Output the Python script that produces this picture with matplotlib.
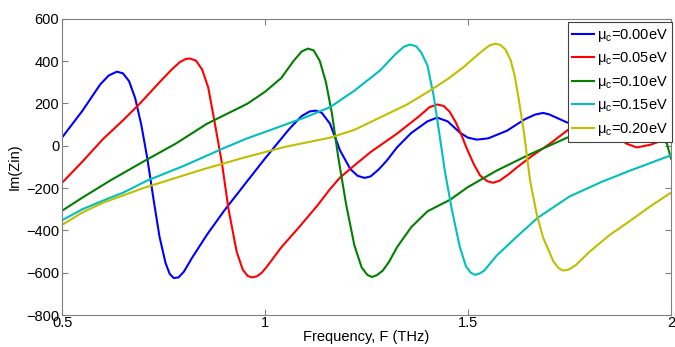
import matplotlib
matplotlib.use("Agg")
import matplotlib.pyplot as plt

plt.rcParams["font.family"] = ["Liberation Sans", "DejaVu Sans"]
plt.rcParams["mathtext.fontset"] = "custom"
plt.rcParams["mathtext.rm"] = "Liberation Sans"

# values (frequency in THz, Im(Zin))
f_000 = [0.50, 0.55, 0.594, 0.615, 0.635, 0.65, 0.665, 0.68, 0.695, 0.71, 0.725, 0.74, 0.755,
         0.765, 0.775, 0.787, 0.80, 0.82, 0.857, 0.90, 0.955, 1.00, 1.06, 1.09, 1.11, 1.125,
         1.14, 1.16, 1.185, 1.21, 1.228, 1.245, 1.26, 1.28, 1.30, 1.325, 1.36, 1.40, 1.424,
         1.45, 1.48, 1.50, 1.522, 1.55, 1.596, 1.64, 1.665, 1.685, 1.70, 1.744, 1.78, 1.82,
         1.86, 1.90, 1.95, 2.00]
z_000 = [39, 165, 290, 332, 350, 342, 305, 225, 100, -60, -250, -430, -555,
         -605, -625, -622, -595, -530, -420, -305, -170, -60, 80, 140, 162, 166,
         155, 104, -23, -110, -142, -152, -145, -112, -70, -8, 60, 115, 133,
         115, 62, 38, 29, 35, 71, 125, 147, 155, 148, 110, 95, 92,
         105, 130, 160, 188]

f_005 = [0.50, 0.55, 0.60, 0.65, 0.692, 0.74, 0.77, 0.79, 0.805, 0.815, 0.83, 0.845, 0.86,
         0.875, 0.894, 0.91, 0.93, 0.945, 0.957, 0.968, 0.98, 0.992, 1.005, 1.04, 1.086,
         1.13, 1.16, 1.185, 1.21, 1.26, 1.325, 1.38, 1.405, 1.424, 1.44, 1.455, 1.47, 1.485,
         1.497, 1.515, 1.53, 1.548, 1.562, 1.578, 1.60, 1.62, 1.66, 1.702, 1.75, 1.80, 1.84,
         1.87, 1.89, 1.916, 1.95, 2.00]
z_005 = [-175, -75, 30, 120, 200, 300, 360, 395, 410, 412, 402, 360, 275,
         120, -85, -300, -500, -585, -615, -622, -617, -600, -570, -480, -380,
         -280, -205, -150, -109, -30, 57, 140, 182, 195, 188, 160, 110, 45,
         -13, -90, -141, -168, -175, -165, -135, -103, -45, 10, 80, 115, 90,
         40, 10, -8, 5, 40]

f_010 = [0.50, 0.55, 0.618, 0.70, 0.78, 0.857, 0.956, 1.00, 1.04, 1.07, 1.09, 1.106, 1.12,
         1.135, 1.15, 1.165, 1.18, 1.20, 1.22, 1.238, 1.252, 1.263, 1.275, 1.29, 1.305,
         1.325, 1.36, 1.40, 1.456, 1.50, 1.571, 1.653, 1.70, 1.744, 1.80, 1.85, 1.90, 1.94,
         1.97, 1.99, 2.00]
z_010 = [-307, -245, -165, -75, 10, 104, 198, 255, 320, 400, 445, 459, 450,
         400, 300, 150, -50, -280, -470, -575, -610, -620, -612, -590, -550,
         -480, -385, -310, -255, -195, -117, -40, 0, 38, 70, 95, 105, 95,
         55, 10, -60]

f_015 = [0.50, 0.55, 0.60, 0.65, 0.709, 0.80, 0.90, 0.956, 1.00, 1.10, 1.16, 1.22, 1.283,
         1.32, 1.342, 1.357, 1.372, 1.385, 1.40, 1.415, 1.43, 1.443, 1.46, 1.48, 1.495,
         1.507, 1.517, 1.528, 1.54, 1.57, 1.62, 1.672, 1.75, 1.83, 1.90, 2.00]
z_015 = [-352, -300, -260, -222, -165, -95, -10, 35, 65, 135, 182, 260, 355,
         430, 468, 478, 470, 440, 380, 240, 50, -120, -300, -480, -570,
         -600, -610, -604, -590, -520, -430, -340, -240, -170, -117, -45]

f_020 = [0.50, 0.55, 0.60, 0.65, 0.70, 0.758, 0.85, 0.95, 1.05, 1.16, 1.22, 1.283, 1.35,
         1.406, 1.45, 1.488, 1.53, 1.553, 1.567, 1.58, 1.592, 1.605, 1.615, 1.625, 1.638,
         1.653, 1.67, 1.685, 1.71, 1.723, 1.734, 1.748, 1.765, 1.80, 1.85, 1.90, 1.95, 2.00]
z_020 = [-374, -315, -270, -235, -200, -165, -110, -55, -5, 38, 75, 133, 195,
         260, 315, 370, 440, 474, 482, 476, 455, 405, 330, 220, 60,
         -165, -330, -434, -545, -578, -590, -585, -565, -500, -420, -354, -285, -222]

series = [
    (f_000, z_000, "0.00", (0, 0, 1)),
    (f_005, z_005, "0.05", (1, 0, 0)),
    (f_010, z_010, "0.10", (0, 0.5, 0)),
    (f_015, z_015, "0.15", (0, 0.75, 0.75)),
    (f_020, z_020, "0.20", (0.75, 0.75, 0)),
]

x_ticks = [0.5, 1, 1.5, 2]
x_tick_labels = ["0.5", "1", "1.5", "2"]
y_ticks = [-800, -600, -400, -200, 0, 200, 400, 600]

fig = plt.figure(figsize=(6.75, 3.47), dpi=100)
ax = fig.add_axes([0.092, 0.092, 0.902, 0.854])

for f, z, mu, color in series:
    ax.plot(f, z, color=color, lw=1.5, label=r"$\mathregular{\mu_c}$=" + mu + "eV")

ax.set_xlim(0.5, 2)
ax.set_ylim(-800, 600)
ax.set_xticks(x_ticks)
ax.set_xticklabels(x_tick_labels)
ax.set_yticks(y_ticks)
ax.tick_params(direction="in", length=4, width=0.8, color="#808080",
               top=True, right=True, labelsize=10.5)
ax.tick_params(axis="x", pad=1)
ax.tick_params(axis="y", pad=2)
for sp in ax.spines.values():
    sp.set_color("#808080")
    sp.set_linewidth(0.8)

ax.set_xlabel("Frequency, F (THz)", fontsize=10.5, labelpad=0)
ax.set_ylabel("Im(Zin)", fontsize=10.5, labelpad=3)

leg = ax.legend(loc="upper right", bbox_to_anchor=(1.002, 0.988), borderaxespad=0,
                fontsize=10.5, handlelength=1.5, handletextpad=0.2, labelspacing=0.45,
                borderpad=0.3, fancybox=False, framealpha=1)
leg.get_frame().set_edgecolor("#404040")
leg.get_frame().set_linewidth(0.8)

fig.savefig("out.png", dpi=100)
